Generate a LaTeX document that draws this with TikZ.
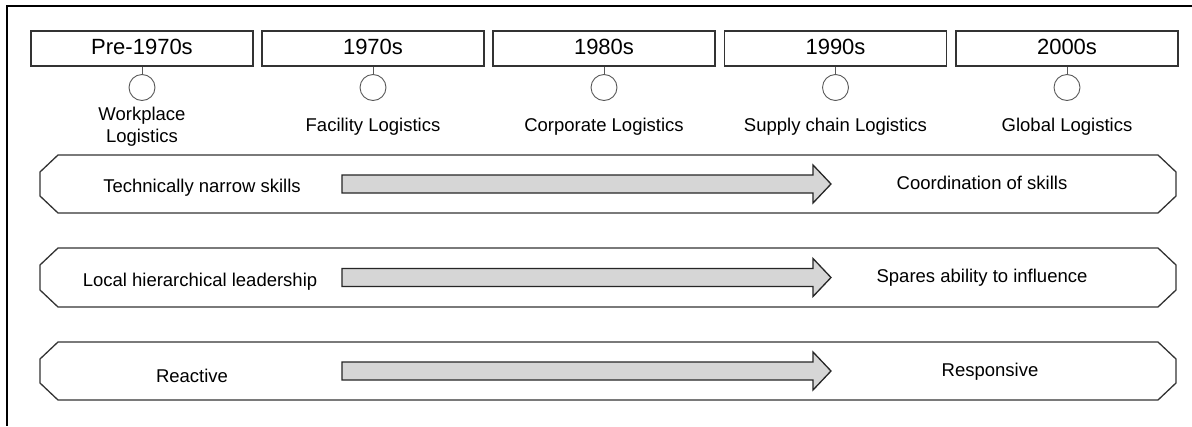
\documentclass[tikz,border=0pt]{standalone}
\usepackage{fontspec}
\setmainfont{Liberation Sans}
\begin{document}
\begin{tikzpicture}[x=1pt,y=-1pt,
  yearbox/.style={draw=black!80,line width=1.3pt,minimum width=222pt,minimum height=35pt,inner sep=0pt},
  yeartext/.style={font=\fontsize{22}{24}\selectfont,inner sep=0pt},
  marker/.style={draw=black!65,line width=0.9pt,circle,minimum size=26pt,inner sep=0pt},
  stem/.style={draw=black!65,line width=0.9pt},
  phase/.style={font=\fontsize{18.5}{22}\selectfont,align=center,inner sep=0pt},
  band/.style={draw=black!80,line width=1.3pt,fill=white},
  blockarrow/.style={draw=black!85,line width=1.3pt,fill=black!16,line join=miter},
  bandtext/.style={font=\fontsize{18.5}{22}\selectfont,inner sep=0pt}]
\useasboundingbox (0,0) rectangle (1192,426);

% partial frame: top and left edges
\draw[line width=1.5pt,black] (1192,6) -- (7,6) -- (7,426);

% eras along the top
\foreach \n/\cx/\yr/\ph in {a/142/Pre-1970s/{Workplace\\Logistics},
                           b/373/1970s/{Facility Logistics},
                           c/604/1980s/{Corporate Logistics},
                           d/835.5/1990s/{Supply chain Logistics},
                           e/1067/2000s/{Global Logistics}}{
  \node[yearbox] (box\n) at (\cx,48.5) {};
  \node[yeartext] (yr\n) at (\cx,46.5) {\yr};
  \node[marker] (dot\n) at (\cx,87.5) {};
  \draw[stem] (box\n.south) -- (dot\n.north);
  \node[phase] (ph\n) at (\cx,126.5) {\ph};
}

% three transition bands with chamfered ends and a block arrow
\foreach \i/\ytop/\ybot/\lt/\lx/\ly/\rt/\rx/\ry in {
    1/155/213/{Technically narrow skills}/202/187.5/{Coordination of skills}/982/183,
    2/248/307/{Local hierarchical leadership}/200/282/{Spares ability to influence}/982/277.5,
    3/342/400/{Reactive}/192/376/{Responsive}/990/371.5}{
  \pgfmathsetmacro{\bmid}{(\ytop+\ybot)/2}
  \draw[band] (58,\ytop) -- (1158,\ytop) -- (1176,\ytop+17) -- (1176,\ybot-17)
              -- (1158,\ybot) -- (58,\ybot) -- (40,\ybot-17) -- (40,\ytop+17) -- cycle;
  \coordinate (tail\i) at (342,\bmid);
  \coordinate (tip\i) at (831,\bmid);
  \draw[blockarrow] (tail\i) ++(0,-9) -- (813,\bmid-9) -- (813,\bmid-19) -- (tip\i)
               -- (813,\bmid+19) -- (813,\bmid+9) -- (342,\bmid+9) -- cycle;
  \node[bandtext] (from\i) at (\lx,\ly) {\lt};
  \node[bandtext] (to\i) at (\rx,\ry) {\rt};
}
\end{tikzpicture}
\end{document}
